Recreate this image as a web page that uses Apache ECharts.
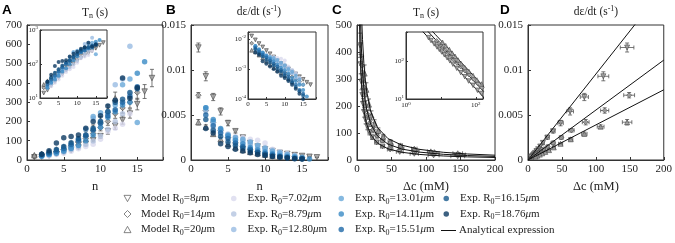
<!DOCTYPE html>
<html><head><meta charset="utf-8">
<script src="https://cdn.jsdelivr.net/npm/echarts@6/dist/echarts.min.js"></script>
<style>html,body{margin:0;padding:0;background:#fff}#c{width:675px;height:243px}</style>
</head><body><div id="c"></div>
<script>
const FONT = 'Liberation Serif';
// ---------------- DATA ----------------
// Model R0=8um
const m8_n = [1,2,3,4,5,6,7,8,9,10,11,12,13,14,15,16,17];
const m8_T = [14,17,23,30,39,50,65,84,103,124,149,177,207,241,290,355,425];
const m8_Terr = [2,2,3,3,4,5,6,8,10,12,15,18,21,24,30,36,45];
const m8_rate = [0.0125,0.0093,0.0070,0.0054,0.0041,0.0032,0.0025,0.0019,0.0015,0.0012,0.0010,0.0008,0.00068,0.00055,0.00045,0.00036,0.0003];
const m8_rerr = [0.0005,0.0005,0.0004,0.0004,0.0003,0.0002,0.0002,0.0002,0.0001,0.0001,0.0001,0.0001,0.00005,0.00005,0.00005,0.00004,0.00003];
const m8_dc = [146,111,83,62,48,37,28.5,22,18,15,12.5,10.5,9,7.7,6.4,5.2,4.4];
const m8_dcerr = [10,8,6,5,4,3,3,2,2,1.5,1.2,1,1,0.8,0.6,0.5,0.4];
// Model R0=14um
const m14_n = [1,2,3,4,5,6,7,8,9,10,11,12,13,14,15];
const m14_T = [20,26,34,44,56,72,90,112,138,168,200,240,270,300,350];
const m14_Terr = [2,3,3,4,5,7,9,11,14,17,20,24,27,30,35];
const m14_rate = [0.0072,0.0055,0.0042,0.0033,0.0025,0.0019,0.0015,0.0012,0.00095,0.00078,0.00065,0.00055,0.00045,0.00038,0.0003];
const m14_rerr = [0.0003,0.0003,0.0003,0.0002,0.0002,0.0002,0.0001,0.0001,0.0001,0.0001,0.00005,0.00005,0.00005,0.00004,0.00003];
const m14_dc = [149,113,85,64,49,37,29,23.5,19,15.7,13.2,11,9.8,8.8,7.5];
const m14_dcerr = [8,6,5,4,3,3,2,2,1.5,1.2,1,1,0.8,0.6,0.5];
// Model R0=20um
const m20_n = [1,2,3,4,5,6,7,8,9,10,11,12];
const m20_T = [25,32,42,54,68,86,108,135,165,205,260,320];
const m20_Terr = [3,3,4,5,7,9,11,14,17,21,26,32];
const m20_rate = [0.0042,0.0037,0.0029,0.0023,0.0018,0.0014,0.0011,0.0009,0.00075,0.0006,0.00048,0.00038];
const m20_rerr = [0.0003,0.0002,0.0002,0.0002,0.0001,0.0001,0.0001,0.0001,0.00005,0.00005,0.00004,0.00003];
const m20_dc = [146,107,83,63,48,38,31,25.5,21,17.4,13.7,11.1];
const m20_dcerr = [7,5,4,3,3,2,2,1.5,1.2,1,1,0.8];

// Experiments
const e702_n = [3,4,5,6,7,8,9,10,11,12,13,14];
const e702_T = [22,28,35,45,58,70,82,108,148,165,185,240];
const e702_rate = [0.0035,0.0031,0.0028,0.0026,0.0025,0.0023,0.0022,0.0019,0.0012,0.0009,0.0007,0.0005];
const e879_n = [3,4,5,6,7,8,9,10,11,12,13,14];
const e879_T = [25,32,42,55,68,80,98,125,160,200,240,345];
const e879_rate = [0.004,0.0033,0.0029,0.0025,0.0022,0.0019,0.0016,0.0014,0.0011,0.0009,0.0007,0.0005];
const e1280_n = [2,3,4,5,6,7,8,9,10,11,12,13,14];
const e1280_T = [20,28,38,50,65,105,130,215,200,240,390,420,590];
const e1280_rate = [0.0055,0.0042,0.0033,0.0027,0.0023,0.0020,0.0017,0.0013,0.0011,0.0009,0.0007,0.0005,0.00035];
const e1301_n = [2,3,4,5,6,7,8,9,10,11,12,13,14,15];
const e1301_T = [22,30,42,55,72,105,160,225,245,250,285,390,420,195];
const e1301_rate = [0.0058,0.0043,0.0034,0.0028,0.0025,0.0023,0.0020,0.0016,0.0013,0.0010,0.0008,0.0006,0.00045,0.0003];
const e1411_n = [2,3,4,5,6,7,8,9,10,11,12,13,14,15,16];
const e1411_T = [20,28,35,45,60,75,100,130,170,220,250,285,300,450,510];
const e1411_rate = [0.0058,0.0045,0.0035,0.0027,0.0022,0.0018,0.0014,0.0011,0.0009,0.0007,0.0005,0.0004,0.0003,0.0002,0.00012];
const e1551_n = [2,3,4,5,6,7,8,9,10,11,12,13,14,15];
const e1551_T = [25,35,45,60,80,100,125,155,190,230,260,300,330,380];
const e1551_rate = [0.005,0.0038,0.003,0.0024,0.0019,0.0015,0.0012,0.0009,0.0007,0.00055,0.0004,0.0003,0.0002,0.00015];
const e1615_n = [2,3,4,5,6,7,8,9,10,11,12,13,14,15];
const e1615_T = [30,40,55,70,90,110,130,165,200,250,300,315,350,370];
const e1615_rate = [0.0045,0.0033,0.0026,0.002,0.0016,0.0013,0.001,0.0008,0.0006,0.00045,0.00035,0.00025,0.00018,0.00013];
const e1876_n = [2,3,4,5,6,7,8,9,10,11,12,13,14,15];
const e1876_T = [30,48,88,115,122,130,165,200,230,280,310,425,320,375];
const e1876_rate = [0.0035,0.003,0.0018,0.0015,0.0012,0.001,0.0008,0.0006,0.0005,0.0004,0.0003,0.00022,0.00015,0.0001];

// Analytical expression curves (dc, T) and D (dc, rate)
const curveC_dc = [3,3.5,4,5,6,7,8,10,12,14,20,30,45,65,90,125,160,200];
const curveC_R8 = [620,531,465,372,310,266,232,186,155,133,93,62,41.3,28.6,20.7,14.9,11.6,9.3];
const curveC_R14 = [878,753,659,527,439,376,329,264,220,188,132,88,58.6,40.5,29.3,21.1,16.5,13.2];
const curveC_R20 = [1188,1019,891,713,594,509,446,357,297,255,178,119,79,55,39.6,28.5,22.3,17.8];
const curveD_dc = [0,200];
const curveD_R8 = [0,0.0191];
const curveD_R14 = [0,0.0111];
const curveD_R20 = [0,0.0078];

// ---------------- BUILD ----------------
const zip = (xs, ys) => xs.map((x,i)=>[x, ys[i]]);
const zipE = (xs, ys, ex, ey) => xs.map((x,i)=>[x, ys[i], ex?ex[i]:0, ey?ey[i]:0]);

const NAME8 = 'Model R0=8μm', NAME14 = 'Model R0=14μm', NAME20 = 'Model R0=20μm', NAMEA = 'Analytical expression';
const models = [
  {name: NAME8, n: m8_n, T: m8_T, Te: m8_Terr, r: m8_rate, re: m8_rerr, dc: m8_dc, dce: m8_dcerr, sym: 'triangle', rot: 180},
  {name: NAME14, n: m14_n, T: m14_T, Te: m14_Terr, r: m14_rate, re: m14_rerr, dc: m14_dc, dce: m14_dcerr, sym: 'diamond', rot: 0},
  {name: NAME20, n: m20_n, T: m20_T, Te: m20_Terr, r: m20_rate, re: m20_rerr, dc: m20_dc, dce: m20_dcerr, sym: 'triangle', rot: 0}
];
const exps = [
  {name: 'Exp. R0=7.02μm', n: e702_n, T: e702_T, r: e702_rate, color: '#dadaed'},
  {name: 'Exp. R0=8.79μm', n: e879_n, T: e879_T, r: e879_rate, color: '#b4c4e0'},
  {name: 'Exp. R0=12.80μm', n: e1280_n, T: e1280_T, r: e1280_rate, color: '#98bce2'},
  {name: 'Exp. R0=13.01μm', n: e1301_n, T: e1301_T, r: e1301_rate, color: '#68a8d8'},
  {name: 'Exp. R0=14.11μm', n: e1411_n, T: e1411_T, r: e1411_rate, color: '#3a8bc6'},
  {name: 'Exp. R0=15.51μm', n: e1551_n, T: e1551_T, r: e1551_rate, color: '#1f69a8'},
  {name: 'Exp. R0=16.15μm', n: e1615_n, T: e1615_T, r: e1615_rate, color: '#17598c'},
  {name: 'Exp. R0=18.76μm', n: e1876_n, T: e1876_T, r: e1876_rate, color: '#0c3a62'}
];

function errRender(params, api){
  const x=api.value(0), y=api.value(1), dx=api.value(2), dy=api.value(3);
  const ch=[]; const st={stroke:'#555', lineWidth:0.8};
  const c=api.coord([x,y]);
  if(dy>0){const a=api.coord([x,y-dy]), b=api.coord([x,y+dy]);
    ch.push({type:'line',shape:{x1:c[0],y1:a[1],x2:c[0],y2:b[1]},style:st});
    ch.push({type:'line',shape:{x1:c[0]-2,y1:a[1],x2:c[0]+2,y2:a[1]},style:st});
    ch.push({type:'line',shape:{x1:c[0]-2,y1:b[1],x2:c[0]+2,y2:b[1]},style:st});}
  if(dx>0){const a=api.coord([x-dx,y]), b=api.coord([x+dx,y]);
    ch.push({type:'line',shape:{x1:a[0],y1:c[1],x2:b[0],y2:c[1]},style:st});
    ch.push({type:'line',shape:{x1:a[0],y1:c[1]-2,x2:a[0],y2:c[1]+2},style:st});
    ch.push({type:'line',shape:{x1:b[0],y1:c[1]-2,x2:b[0],y2:c[1]+2},style:st});}
  return {type:'group',children:ch};
}

const series = [];
const modelStyle = {color:'#9c9c9c', borderColor:'#4a4a4a', borderWidth:0.8};
function modelScatter(m, ax, data, size){
  series.push({type:'scatter', name:m.name, xAxisIndex:ax, yAxisIndex:ax, data, symbol:m.sym, symbolRotate:m.rot,
    symbolSize:size, itemStyle:modelStyle, z:ax===6?6:3, silent:true});
}
function errS(m, ax, data){
  series.push({type:'custom', name:m.name, xAxisIndex:ax, yAxisIndex:ax, data, renderItem:errRender, z:2, silent:true});
}
models.forEach(m=>{
  modelScatter(m,0,zip(m.n,m.T),5.5);
  modelScatter(m,1,zip(m.n,m.r),5.5);
  modelScatter(m,2,zip(m.dc,m.T),5);
  modelScatter(m,3,zip(m.dc,m.r),5);
  modelScatter(m,4,zip(m.n,m.T),3.8);
  modelScatter(m,5,zip(m.n,m.r),3.8);
  modelScatter(m,6,zip(m.dc,m.T),4.5);
});
models.forEach(m=>{
  errS(m,0,zipE(m.n,m.T,null,m.Te));
  errS(m,1,zipE(m.n,m.r,null,m.re));
  errS(m,2,zipE(m.dc,m.T,m.dce,m.Te));
  errS(m,3,zipE(m.dc,m.r,m.dce,m.re));
});
exps.forEach(e=>{
  [[0,zip(e.n,e.T),5.5],[1,zip(e.n,e.r),5.5],[4,zip(e.n,e.T),4],[5,zip(e.n,e.r),4]].forEach(([ax,data,s])=>{
    series.push({type:'scatter', name:e.name, xAxisIndex:ax, yAxisIndex:ax, data, symbol:'circle', symbolSize:s,
      itemStyle:{color:e.color}, z:4, silent:true});
  });
});
function lineS(ax, xs, ys){
  series.push({type:'line', name:NAMEA, xAxisIndex:ax, yAxisIndex:ax, data:zip(xs,ys), showSymbol:false, symbol:'none',
    lineStyle:{color:'#111', width:1}, itemStyle:{color:'#111'}, clip:true, z:5, silent:true});
}
[curveC_R8,curveC_R14,curveC_R20].forEach(c=>{lineS(2,curveC_dc,c); lineS(6,curveC_dc,c);});
[curveD_R8,curveD_R14,curveD_R20].forEach(c=>lineS(3,curveD_dc,c));

// ---------------- AXES ----------------
const axLine = {show:true, onZero:false, lineStyle:{color:'#333', width:1}};
function mainX(grid, max, interval, name){
  return {type:'value', gridIndex:grid, min:0, max, interval, axisLine:axLine,
    axisTick:{inside:true, length:3, lineStyle:{color:'#333'}}, splitLine:{show:false},
    axisLabel:{color:'#222', fontFamily:FONT, fontSize:11, margin:4,
      formatter:v=> (Math.abs(v/interval - Math.round(v/interval))<1e-6) ? String(v) : ''},
    name, nameLocation:'middle', nameGap:14, nameTextStyle:{fontFamily:FONT, fontSize:12.5, color:'#222'}};
}
function mainY(grid, max, interval){
  return {type:'value', gridIndex:grid, min:0, max, interval, axisLine:axLine,
    axisTick:{inside:true, length:3, lineStyle:{color:'#333'}}, splitLine:{show:false},
    axisLabel:{color:'#222', fontFamily:FONT, fontSize:11, margin:5}};
}
const supRich = {sup:{fontSize:5, fontFamily:FONT, color:'#222', padding:[0,0,4,0]}};
function logFmt(onlyEven){
  return v=>{const e=Math.log10(v); const r=Math.round(e); if(Math.abs(e-r)>1e-6) return ''; if(onlyEven && r%2!==0) return ''; return '10{sup|'+r+'}';};
}
function insetLinX(grid, max){
  return {type:'value', gridIndex:grid, min:0, max, interval:5, axisLine:axLine,
    axisTick:{inside:true, length:2, lineStyle:{color:'#333'}}, splitLine:{show:false},
    axisLabel:{color:'#222', fontFamily:FONT, fontSize:7, margin:2,
      formatter:v=> (v%5===0) ? String(v) : ''}};
}
function insetLog(grid, min, max, onlyEven){
  return {type:'log', logBase:10, gridIndex:grid, min, max, axisLine:axLine,
    axisTick:{inside:true, length:2, lineStyle:{color:'#333'}}, splitLine:{show:false},
    axisLabel:{color:'#222', fontFamily:FONT, fontSize:7, margin:2, formatter:logFmt(onlyEven), rich:supRich}};
}

const grids = [
  {left:27, top:25, width:136, height:135},
  {left:191, top:25, width:137, height:135},
  {left:357, top:25, width:138, height:135},
  {left:528, top:25, width:137, height:135},
  {left:40, top:30, width:67, height:68},
  {left:248, top:32, width:68, height:67},
  {left:406, top:32, width:77, height:67}
].map((g,i)=>Object.assign({show:true, borderColor:'#333', borderWidth:1, backgroundColor:i>=4?'#fff':'transparent'}, g));

const xAxis = [
  mainX(0,18.5,5,'n'), mainX(1,18.5,5,'n'), mainX(2,200,50,'Δc (mM)'), mainX(3,200,50,'Δc (mM)'),
  insetLinX(4,18), insetLinX(5,18.5), insetLog(6,1,160,true)
];
const yAxis = [
  mainY(0,700,100), mainY(1,0.015,0.005), mainY(2,500,100), mainY(3,0.015,0.005),
  insetLog(4,10,1000,false), insetLog(5,0.0001,0.017,false), insetLog(6,10,600,false)
];

// ---------------- TITLES ----------------
const titleRich = {t:{fontFamily:FONT, fontSize:11.5, fontWeight:'normal', color:'#222'},
  sub:{fontFamily:FONT, fontSize:8, fontWeight:'normal', color:'#222', padding:[6,0,0,0]},
  sup:{fontFamily:FONT, fontSize:8, fontWeight:'normal', color:'#222', padding:[0,0,6,0]}};
const titles = [
  {text:'{t|T}{sub|n}{t| (s)}', left:95, top:6},
  {text:'{t|dε/dt (s}{sup|-1}{t|)}', left:259, top:5},
  {text:'{t|T}{sub|n}{t| (s)}', left:426, top:6},
  {text:'{t|dε/dt (s}{sup|-1}{t|)}', left:596, top:5}
].map(t=>({text:t.text, left:t.left, top:t.top, textAlign:'center', padding:0,
  textStyle:{fontWeight:'normal', fontFamily:FONT, fontSize:11.5, rich:titleRich}}));
[['A',2],['B',166],['C',332],['D',500]].forEach(([l,x])=>titles.push({text:l, left:x, top:3, padding:0,
  textStyle:{fontFamily:'Liberation Sans', fontWeight:'bold', fontSize:13.5, color:'#000'}}));

// ---------------- LEGEND ----------------
const legRich = {sub:{fontFamily:FONT, fontSize:8, color:'#222', padding:[6,0,0,0]}, mu:{fontFamily:FONT, fontStyle:'italic', fontSize:11, color:'#222'}};
const legFmt = name => name.replace('R0','R{sub|0}').replace('μ','{mu|μ}');
const downTri = 'path://M0,0 L10,0 L5,9 Z', upTri = 'path://M5,0 L10,9 L0,9 Z', dia = 'path://M5,0 L10,5 L5,10 L0,5 Z';
const rowsY = [193, 208.5, 224];
const legendItems = [
  [NAME8, downTri, 123.5, rowsY[0]], [NAME14, dia, 123.5, rowsY[1]], [NAME20, upTri, 123.5, rowsY[2]],
  [exps[0].name, 'circle', 231, rowsY[0]], [exps[1].name, 'circle', 231, rowsY[1]], [exps[2].name, 'circle', 231, rowsY[2]],
  [exps[3].name, 'circle', 338.5, rowsY[0]], [exps[4].name, 'circle', 338.5, rowsY[1]], [exps[5].name, 'circle', 338.5, rowsY[2]],
  [exps[6].name, 'circle', 443.5, rowsY[0]], [exps[7].name, 'circle', 443.5, rowsY[1]]
];
const legend = legendItems.map(([name, icon, l, t])=>{
  const isModel = name.startsWith('Model');
  const e = exps.find(x=>x.name===name);
  return {data:[{name, icon, itemStyle: isModel ? {color:'#fff', borderColor:'#666', borderWidth:1} : {color:e.color, borderWidth:0}}],
    left:l, top:t, padding:0, itemWidth: isModel?7:5.5, itemHeight: isModel?7:5.5, selectedMode:false,
    formatter:legFmt, textStyle:{fontFamily:FONT, fontSize:11, color:'#222', rich:legRich, padding:[0,0,0, isModel?5:6]}};
});
legend.push({data:[{name:NAMEA, icon:'rect', itemStyle:{color:'#111'}}], left:441, top:rowsY[2]+1, padding:0, itemWidth:15, itemHeight:1,
  selectedMode:false, textStyle:{fontFamily:FONT, fontSize:11, color:'#222', padding:[0,0,0,-2]}});

const chart = echarts.init(document.getElementById('c'), null, {renderer:'canvas'});
chart.setOption({animation:false, backgroundColor:'#fff', title:titles, grid:grids, xAxis, yAxis, legend, series});
</script></body></html>
